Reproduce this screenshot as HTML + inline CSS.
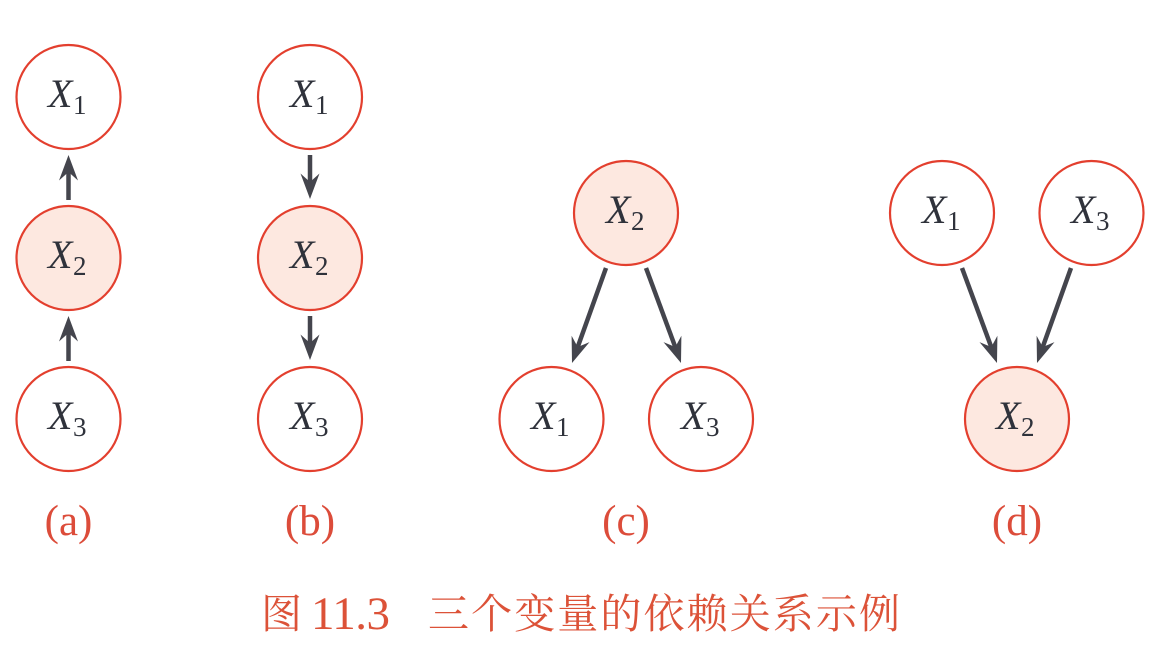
<!DOCTYPE html>
<html><head><meta charset="utf-8"><style>
html,body{margin:0;padding:0;background:#fff}
svg{display:block}
.x{font:italic 40px "Liberation Serif",serif;fill:#2f323b}
.s{font:27px "Liberation Serif",serif;fill:#2f323b}
.l{font:43px "Liberation Serif",serif;fill:#dc4c3a;text-anchor:middle}
.c{font:41px "Liberation Serif","Noto Serif CJK SC",serif;fill:#dc5238}
.n{font:47px "Liberation Serif",serif;fill:#dc5238}
circle{stroke:#e33f2e;stroke-width:2.2;fill:#fff}
circle.f{fill:#fde8e0}
line{stroke:#44454d;stroke-width:4.500}
path{fill:#44454d}
</style></head><body>
<svg width="1173" height="653" viewBox="0 0 1173 653" xmlns="http://www.w3.org/2000/svg">
<defs>
<g id="h"><path d="M0 0L-9.500 -25.500L0 -17L9.500 -25.500Z"/></g>
</defs>

<circle cx="68.500" cy="97" r="52"/><circle class="f" cx="68.500" cy="258" r="52"/><circle cx="68.500" cy="419" r="52"/>
<circle cx="310" cy="97" r="52"/><circle class="f" cx="310" cy="258" r="52"/><circle cx="310" cy="419" r="52"/>
<circle class="f" cx="626" cy="213" r="52"/><circle cx="551.500" cy="419" r="52"/><circle cx="701" cy="419" r="52"/>
<circle cx="942" cy="213" r="52"/><circle cx="1091.500" cy="213" r="52"/><circle class="f" cx="1017" cy="419" r="52"/>

<line x1="68.500" y1="200" x2="68.500" y2="170"/><use href="#h" transform="translate(68.500 155) rotate(180)"/>
<line x1="68.500" y1="361" x2="68.500" y2="331"/><use href="#h" transform="translate(68.500 316) rotate(180)"/>
<line x1="310" y1="155" x2="310" y2="185"/><use href="#h" transform="translate(310 199)"/>
<line x1="310" y1="316" x2="310" y2="346"/><use href="#h" transform="translate(310 360)"/>
<line x1="606" y1="268" x2="577" y2="349"/><use href="#h" transform="translate(572 363) rotate(19.600)"/>
<line x1="646" y1="268" x2="676" y2="349"/><use href="#h" transform="translate(681 363) rotate(-19.600)"/>
<line x1="962" y1="268" x2="992" y2="349"/><use href="#h" transform="translate(997 363) rotate(-19.600)"/>
<line x1="1071" y1="268" x2="1042" y2="349"/><use href="#h" transform="translate(1037 363) rotate(19.600)"/>

<text class="x" x="48" y="107">X</text><text class="s" x="73" y="114">1</text>
<text class="x" x="48" y="268">X</text><text class="s" x="73" y="275">2</text>
<text class="x" x="48" y="429">X</text><text class="s" x="73" y="436">3</text>
<text class="x" x="290" y="107">X</text><text class="s" x="315" y="114">1</text>
<text class="x" x="290" y="268">X</text><text class="s" x="315" y="275">2</text>
<text class="x" x="290" y="429">X</text><text class="s" x="315" y="436">3</text>
<text class="x" x="606" y="223">X</text><text class="s" x="631" y="230">2</text>
<text class="x" x="531" y="429">X</text><text class="s" x="556" y="436">1</text>
<text class="x" x="681" y="429">X</text><text class="s" x="706" y="436">3</text>
<text class="x" x="922" y="223">X</text><text class="s" x="947" y="230">1</text>
<text class="x" x="1071" y="223">X</text><text class="s" x="1096" y="230">3</text>
<text class="x" x="996" y="429">X</text><text class="s" x="1021" y="436">2</text>

<text class="l" x="68.500" y="535">(a)</text>
<text class="l" x="310" y="535">(b)</text>
<text class="l" x="626" y="535">(c)</text>
<text class="l" x="1017" y="535">(d)</text>

<text class="c" x="261" y="628">图</text>
<text class="n" x="311" y="629" textLength="79">11.3</text>
<text class="c" x="428" y="628" textLength="472">三个变量的依赖关系示例</text>
</svg>
</body></html>
